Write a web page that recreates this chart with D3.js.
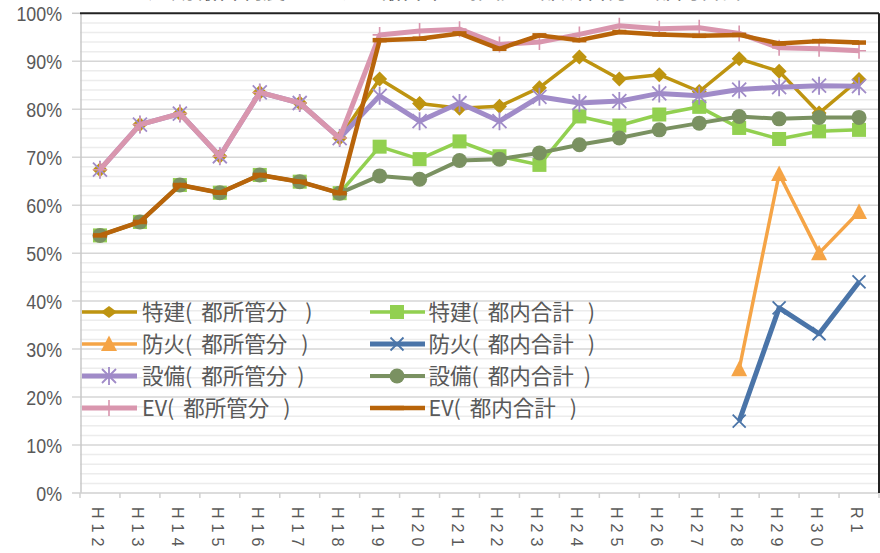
<!DOCTYPE html>
<html><head><meta charset="utf-8">
<script src="https://cdn.jsdelivr.net/npm/d3@7"></script>
<style>html,body{margin:0;padding:0;background:#fff;overflow:hidden}</style>
</head><body>
<svg id="chart" width="880" height="553"></svg>
<script>
const categories = ["H12","H13","H14","H15","H16","H17","H18","H19","H20","H21","H22","H23","H24","H25","H26","H27","H28","H29","H30","R1"];
const yTicks = [0,10,20,30,40,50,60,70,80,90,100];
const titleText = "定期報告制度における報告率の推移（都所管分・都内合計）";

const tokkenShokan  = [67.4,76.8,79.1,70.2,83.5,81.3,74.0,86.3,81.2,80.2,80.6,84.5,90.9,86.3,87.2,83.7,90.5,87.9,79.2,86.2];
const tokkenTotal   = [53.7,56.5,64.2,62.6,66.3,64.9,62.5,72.2,69.6,73.3,70.2,68.4,78.5,76.6,78.9,80.5,76.1,73.8,75.4,75.7];
const boukaShokan   = [null,null,null,null,null,null,null,null,null,null,null,null,null,null,null,null,25.8,66.5,50.0,58.6];
const boukaTotal    = [null,null,null,null,null,null,null,null,null,null,null,null,null,null,null,null,15.0,38.6,33.2,44.0];
const setsubiShokan = [67.4,76.8,79.1,70.2,83.5,81.3,74.0,82.8,77.5,81.3,77.5,82.6,81.3,81.7,83.3,82.8,84.1,84.6,84.9,84.8];
const setsubiTotal  = [53.7,56.5,64.2,62.6,66.3,64.9,62.5,66.1,65.4,69.3,69.6,70.9,72.6,74.0,75.7,77.1,78.5,78.0,78.3,78.3];
const evShokan      = [67.4,76.8,79.1,70.2,83.5,81.3,74.0,95.5,96.3,96.7,93.5,94.0,95.6,97.4,96.8,97.0,95.8,92.8,92.6,92.2];
const evTotal       = [53.7,56.5,64.2,62.6,66.3,64.9,62.5,94.4,94.7,95.8,92.6,95.4,94.4,96.1,95.6,95.3,95.5,93.7,94.2,93.9];

const seriesNames = ["特建(都所管分  )","特建(都内合計 )","防火(都所管分 )","防火(都内合計 )","設備(都所管分)","設備(都内合計)","EV(都所管分 )","EV(都内合計 )"];
const seriesValues = [tokkenShokan,tokkenTotal,boukaShokan,boukaTotal,setsubiShokan,setsubiTotal,evShokan,evTotal];

const styles = [
  {color:"#BE9410", w:3.5, marker:"diamond"},
  {color:"#92D050", w:3.5, marker:"square"},
  {color:"#F5A446", w:3.5, marker:"triangle"},
  {color:"#4A74A8", w:5,   marker:"x"},
  {color:"#A08BC8", w:5,   marker:"star"},
  {color:"#7A9161", w:4,   marker:"circle"},
  {color:"#D996AE", w:5,   marker:"plus"},
  {color:"#B8640A", w:4.5, marker:"dash"}
];

const svg = d3.select("#chart");
const pLeft = 80, pRight = 879, pTop = 13.3, pBottom = 493;
const x = d3.scaleBand().domain(categories).range([pLeft, pRight]);
const y = d3.scaleLinear().domain([0, 100]).range([pBottom, pTop]);

svg.append("text").attr("x", 458).attr("y", -2.5).attr("text-anchor","middle")
  .attr("font-family","Noto Sans CJK JP").attr("font-size",21).attr("fill","#595959")
  .attr("textLength",620).attr("lengthAdjust","spacingAndGlyphs").text(titleText);

const minor = d3.range(2, 100, 2).filter(v => v % 10 !== 0);
svg.append("g").selectAll("line").data(minor).join("line")
  .attr("x1", pLeft).attr("x2", pRight).attr("y1", d => y(d)).attr("y2", d => y(d))
  .attr("stroke","#ececec").attr("stroke-width",1.5);
svg.append("g").selectAll("line").data(yTicks.filter(v => v > 0 && v < 100)).join("line")
  .attr("x1", pLeft - 8).attr("x2", pRight).attr("y1", d => y(d)).attr("y2", d => y(d))
  .attr("stroke","#d6d6d6").attr("stroke-width",1.5);

svg.append("line").attr("x1", pLeft+1).attr("x2", pLeft+1).attr("y1", pTop).attr("y2", pBottom)
  .attr("stroke","#c8c8c8").attr("stroke-width",1.5);
svg.append("g").selectAll("line").data([100]).join("line")
  .attr("x1", pLeft - 8).attr("x2", pLeft).attr("y1", d => y(d)).attr("y2", d => y(d))
  .attr("stroke","#c8c8c8").attr("stroke-width",1.5);
svg.append("line").attr("x1", pLeft - 8).attr("x2", pRight).attr("y1", pBottom).attr("y2", pBottom)
  .attr("stroke","#d0d0d0").attr("stroke-width",1.5);
const bounds = categories.map(c => x(c)).concat([pRight]);
svg.append("g").selectAll("line").data(bounds).join("line")
  .attr("x1", d => d).attr("x2", d => d).attr("y1", pBottom).attr("y2", pBottom + 5)
  .attr("stroke","#d0d0d0").attr("stroke-width",1.5);
svg.append("line").attr("x1", pLeft).attr("x2", pRight).attr("y1", pTop).attr("y2", pTop)
  .attr("stroke","#222").attr("stroke-width",2);
svg.append("line").attr("x1", pRight).attr("x2", pRight).attr("y1", pTop).attr("y2", pBottom)
  .attr("stroke","#222").attr("stroke-width",2);

svg.append("g").selectAll("text").data(yTicks).join("text")
  .attr("transform", d => `translate(62,${y(d)}) scale(0.85,1)`)
  .attr("dy","0.36em").attr("text-anchor","end")
  .attr("font-family","Liberation Sans, Arial").attr("font-size",21).attr("fill","#595959")
  .text(d => d + "%");

svg.append("g").selectAll("text").data(categories).join("text")
  .attr("transform", d => `translate(${x(d) + x.bandwidth()/2},507) rotate(90)`)
  .attr("dy","0.5em")
  .attr("font-family","Liberation Sans, Arial").attr("font-size",16).attr("fill","#595959")
  .attr("letter-spacing","5px")
  .text(d => d);

function drawMarker(g, type, color, legend) {
  if (type === "diamond") g.append("path").attr("d", legend ? "M0,-6L8,0L0,6L-8,0Z" : "M0,-7.5L7.5,0L0,7.5L-7.5,0Z").attr("fill",color);
  else if (type === "square") g.append("rect").attr("x",-7).attr("y",-7).attr("width",14).attr("height",14).attr("fill",color);
  else if (type === "triangle") g.append("path").attr("d","M0,-8.5L8,7L-8,7Z").attr("fill",color);
  else if (type === "x") g.append("path").attr("d","M-6.5,-6.5L6.5,6.5M-6.5,6.5L6.5,-6.5").attr("stroke",color).attr("stroke-width",1.8).attr("fill","none");
  else if (type === "star") g.append("path").attr("d","M-7,-7L7,7M-7,7L7,-7M0,-9L0,9").attr("stroke",color).attr("stroke-width",1.8).attr("fill","none");
  else if (type === "circle") g.append("circle").attr("r",7.5).attr("fill",color);
  else if (type === "plus") g.append("path").attr("d","M-7,0L7,0M0,-8L0,8").attr("stroke",color).attr("stroke-width",1.6).attr("fill","none");
  else if (type === "dash") g.append("path").attr("d","M-7,0L7,0").attr("stroke",color).attr("stroke-width",4.5).attr("fill","none");
}

const line = d3.line()
  .defined(d => d.v !== null)
  .x(d => x(d.c) + x.bandwidth()/2)
  .y(d => y(d.v));

seriesValues.forEach((vals, i) => {
  const st = styles[i];
  const pts = categories.map((c, j) => ({c, v: vals[j]}));
  const g = svg.append("g");
  g.append("path").datum(pts).attr("d", line)
    .attr("fill","none").attr("stroke", st.color).attr("stroke-width", st.w)
    .attr("stroke-linejoin","round");
  pts.filter(p => p.v !== null).forEach(p => {
    const mg = g.append("g").attr("transform", `translate(${x(p.c) + x.bandwidth()/2},${y(p.v)})`);
    drawMarker(mg, st.marker, st.color, false);
  });
});

const legendRows = [312, 344, 376, 408];
const legendCols = [{lx:82, tx:142}, {lx:370, tx:428.5}];
seriesNames.forEach((name, i) => {
  const st = styles[i];
  const col = legendCols[i % 2], ry = legendRows[Math.floor(i / 2)];
  const g = svg.append("g");
  g.append("line").attr("x1", col.lx).attr("x2", col.lx + 55).attr("y1", ry).attr("y2", ry)
    .attr("stroke", st.color).attr("stroke-width", st.w);
  drawMarker(g.append("g").attr("transform", `translate(${col.lx + 27},${ry})`), st.marker, st.color, true);
  const m = name.match(/^(.*?)\((.*?)(\s*)\)$/);
  const t = g.append("text").attr("x", col.tx).attr("y", ry).attr("dy","0.36em")
    .attr("font-family","Noto Sans CJK JP").attr("font-size",21.5).attr("fill","#595959");
  t.append("tspan").text(m[1]);
  t.append("tspan").attr("dx", 0).text("(");
  t.append("tspan").attr("dx", 9).text(m[2]);
  t.append("tspan").attr("dx", 10 + 4 * m[3].length).text(")");
});
</script>
</body></html>
